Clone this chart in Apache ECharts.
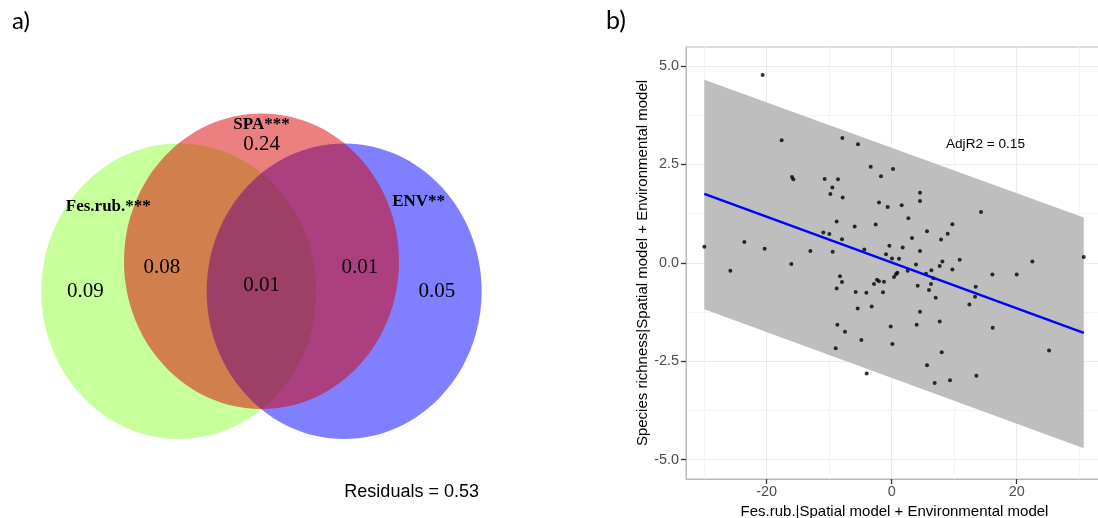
<!DOCTYPE html>
<html>
<head>
<meta charset="utf-8">
<script src="https://cdn.jsdelivr.net/npm/echarts@6/dist/echarts.min.js"></script>
<style>
html, body { margin: 0; padding: 0; background: #fff; }
#chart { width: 1098px; height: 518px; }
</style>
</head>
<body>
<div id="chart"></div>
<script>
// a) variance partitioning (Venn)
var vennNames = ['Fes.rub.***', 'ENV**', 'SPA***'];
var vennCx = [-0.601, 0.601, 0];
var vennCy = [0, 0, 0.203];
var vennR = [1, 1, 1];
var vennNameX = [-1.114, 1.143, 0];
var vennNameY = [0.572, 0.606, 1.125];
var fractionValues = ['0.09', '0.08', '0.24', '0.01', '0.01', '0.05'];
var fractionX = [-1.281, -0.724, 0, 0, 0.716, 1.276];
var fractionY = [0, 0.159, 0.996, 0.037, 0.159, 0];
var residualText = 'Residuals = 0.53';
var residualPos = [1.092, -1.357];

// b) partial regression plot
var pointX = [-20.64, -17.6, -7.89, -5.39, -3.36, 0.21, -1.71, -15.95, -15.73, -10.72,
    -8.59, -9.49, -9.81, -7.84, 4.53, 4.53, -2.03, -0.64, 1.6, 14.29,
    2.67, -8.8, -2.56, 9.71, -5.92, 5.65, -10.93, -9.97, 8.96, 3.25,
    -7.95, 7.89, -23.57, -29.97, -0.37, -20.32, -4.37, 1.76, -13.01, 4.53,
    -9.44, -0.91, 0.05, 1.17, 10.88, 22.5, 30.72, -16.05, 8.11, 3.89,
    7.68, -25.81, 2.56, 9.71, 6.35, 0.91, 0.69, 5.49, 16.11, 20.0,
    0.37, -8.27, 6.67, -2.35, -2.03, -7.95, -1.23, -2.83, 6.29, 4.16,
    13.44, -8.8, 5.97, -5.76, -4.05, -1.39, 13.33, 7.04, 12.43, -3.2,
    -5.44, 4.53, -8.69, 4.0, 7.68, -0.16, 16.16, -7.47, -4.85, 0.11,
    -8.96, 8.0, 25.17, 5.65, -4.0, 13.55, 9.33, 6.88];
var pointY = [4.77, 3.11, 3.17, 3.01, 2.44, 2.38, 2.20, 2.18, 2.12, 2.13,
    2.12, 1.91, 1.75, 1.66, 1.78, 1.57, 1.53, 1.42, 1.46, 1.29,
    1.13, 1.05, 0.97, 0.98, 0.92, 0.80, 0.77, 0.73, 0.74, 0.63,
    0.60, 0.59, 0.53, 0.41, 0.43, 0.36, 0.34, 0.39, 0.30, 0.30,
    0.28, 0.22, 0.11, 0.10, 0.08, 0.03, 0.15, -0.03, 0.03, -0.04,
    -0.08, -0.20, -0.20, -0.17, -0.19, -0.25, -0.29, -0.28, -0.30, -0.30,
    -0.36, -0.34, -0.39, -0.43, -0.47, -0.49, -0.48, -0.54, -0.54, -0.58,
    -0.61, -0.65, -0.69, -0.74, -0.76, -0.75, -0.86, -0.89, -1.06, -1.11,
    -1.16, -1.24, -1.57, -1.57, -1.49, -1.62, -1.65, -1.75, -1.96, -2.06,
    -2.17, -2.27, -2.23, -2.6, -2.81, -2.87, -2.98, -3.05];
var fitX = [-29.97, 30.72];
var fitY = [1.75, -1.78];
var bandLower = [-1.18, -4.71];
var bandUpper = [4.65, 1.15];
var xTicks = [-20, 0, 20];
var xMinor = [-30, -10, 10, 30];
var yTicks = [-5, -2.5, 0, 2.5, 5];
var yMinor = [-3.75, -1.25, 1.25, 3.75];
var adjR2Text = 'AdjR2 = 0.15';
var adjR2Pos = [15, 3];

var vennColors = ['rgb(199,255,154)', 'rgba(0,0,255,0.5)', 'rgba(218,0,0,0.5)'];

function zipXY(xs, ys) {
    var out = [];
    for (var i = 0; i < xs.length; i++) out.push([xs[i], ys[i]]);
    return out;
}

// texte place en coordonnees de donnees
function textSeries(axisIndex, xs, ys, texts, style) {
    return {
        type: 'custom',
        xAxisIndex: axisIndex,
        yAxisIndex: axisIndex,
        silent: true,
        data: zipXY(xs, ys),
        renderItem: function (params, api) {
            var p = api.coord([api.value(0), api.value(1)]);
            var s = { text: texts[params.dataIndex], align: 'center', verticalAlign: 'middle' };
            for (var k in style) s[k] = style[k];
            return { type: 'text', x: p[0], y: p[1], style: s };
        }
    };
}

var chart = echarts.init(document.getElementById('chart'));
var option = {
    animation: false,
    backgroundColor: '#fff',
    title: [
        { text: 'a)', left: 7, top: 4, textStyle: { fontSize: 24, fontWeight: 'normal', fontFamily: 'Lato', color: '#000' } },
        { text: 'b)', left: 601, top: 3, textStyle: { fontSize: 25, fontWeight: 'normal', fontFamily: 'Lato', color: '#000' } }
    ],
    grid: [
        { left: 41.5, top: 84.3, width: 440, height: 428.6, outerBoundsMode: 'none' },
        {
            left: 686, top: 47, width: 417, height: 432, outerBoundsMode: 'none',
            show: true, borderColor: '#b8b8b8', borderWidth: 1
        }
    ],
    xAxis: [
        { gridIndex: 0, type: 'value', min: -1.6, max: 1.6, show: false },
        {
            gridIndex: 1, type: 'value', min: -32.9, max: 33.8,
            axisLine: { show: true, onZero: false, lineStyle: { color: '#b8b8b8', width: 1 } },
            axisTick: { show: true, customValues: xTicks, length: 5, lineStyle: { color: '#333', width: 1.3 } },
            axisLabel: {
                customValues: xTicks, margin: 6, fontSize: 14.4, color: '#4d4d4d',
                fontFamily: 'Liberation Sans'
            },
            splitLine: { show: true, lineStyle: { color: '#ebebeb', width: 1 } },
            name: 'Fes.rub.|Spatial model + Environmental model',
            nameLocation: 'middle', nameGap: 20,
            nameTextStyle: { fontSize: 15, color: '#000', fontFamily: 'Liberation Sans' }
        },
        {
            gridIndex: 1, type: 'value', min: -32.9, max: 33.8, position: 'top',
            axisLine: { show: false, onZero: false },
            axisTick: { show: false, customValues: xMinor },
            axisLabel: { show: false },
            splitLine: { show: true, lineStyle: { color: '#f4f4f4', width: 1 } }
        }
    ],
    yAxis: [
        { gridIndex: 0, type: 'value', min: -1.5, max: 1.4, show: false },
        {
            gridIndex: 1, type: 'value', min: -5.49, max: 5.48,
            axisLine: { show: true, onZero: false, lineStyle: { color: '#b8b8b8', width: 1 } },
            axisTick: { show: true, customValues: yTicks, length: 5, lineStyle: { color: '#333', width: 1.3 } },
            axisLabel: {
                customValues: yTicks, margin: 7, fontSize: 14.4, color: '#4d4d4d',
                fontFamily: 'Liberation Sans',
                formatter: function (v) { return v.toFixed(1); }
            },
            splitLine: { show: true, lineStyle: { color: '#ebebeb', width: 1 } },
            name: 'Species richness|Spatial model + Environmental model',
            nameLocation: 'middle', nameGap: 32,
            nameTextStyle: { fontSize: 15, color: '#000', fontFamily: 'Liberation Sans' }
        },
        {
            gridIndex: 1, type: 'value', min: -5.49, max: 5.48, position: 'right',
            axisLine: { show: false, onZero: false },
            axisTick: { show: false, customValues: yMinor },
            axisLabel: { show: false },
            splitLine: { show: true, lineStyle: { color: '#f4f4f4', width: 1 } }
        }
    ],
    series: [
        {
            // cercles du diagramme de Venn
            type: 'custom',
            xAxisIndex: 0,
            yAxisIndex: 0,
            silent: true,
            data: vennCx.map(function (cx, i) { return [cx, vennCy[i], vennR[i]]; }),
            renderItem: function (params, api) {
                var c = api.coord([api.value(0), api.value(1)]);
                var s = api.size([api.value(2), api.value(2)]);
                return {
                    type: 'ellipse',
                    shape: { cx: c[0], cy: c[1], rx: s[0], ry: s[1] },
                    style: { fill: vennColors[params.dataIndex] }
                };
            }
        },
        textSeries(0, vennNameX, vennNameY, vennNames,
            { fill: '#000', fontSize: 17, fontWeight: 'bold', fontFamily: 'Liberation Serif' }),
        textSeries(0, fractionX, fractionY, fractionValues,
            { fill: '#000', fontSize: 21, fontFamily: 'Liberation Serif' }),
        textSeries(0, [residualPos[0]], [residualPos[1]], [residualText],
            { fill: '#000', fontSize: 18, fontFamily: 'Liberation Sans' }),
        {
            // bande grise
            type: 'custom',
            xAxisIndex: 1,
            yAxisIndex: 1,
            silent: true,
            data: fitX.map(function (x, i) { return [x, bandLower[i], bandUpper[i]]; }),
            renderItem: function (params, api) {
                if (params.dataIndex !== 0) return;
                var pts = [];
                for (var i = 0; i < fitX.length; i++) pts.push(api.coord([fitX[i], bandUpper[i]]));
                for (var j = fitX.length - 1; j >= 0; j--) pts.push(api.coord([fitX[j], bandLower[j]]));
                return { type: 'polygon', shape: { points: pts }, style: { fill: '#bebebe' } };
            }
        },
        {
            type: 'line',
            xAxisIndex: 1,
            yAxisIndex: 1,
            data: zipXY(fitX, fitY),
            showSymbol: false,
            silent: true,
            lineStyle: { color: '#0000ff', width: 2.5 }
        },
        {
            type: 'scatter',
            xAxisIndex: 1,
            yAxisIndex: 1,
            data: zipXY(pointX, pointY),
            symbolSize: 4,
            silent: true,
            itemStyle: { color: '#000' }
        },
        textSeries(1, [adjR2Pos[0]], [adjR2Pos[1]], [adjR2Text],
            { fill: '#000', fontSize: 13.6, fontFamily: 'Liberation Sans' })
    ]
};
chart.setOption(option);
</script>
</body>
</html>
